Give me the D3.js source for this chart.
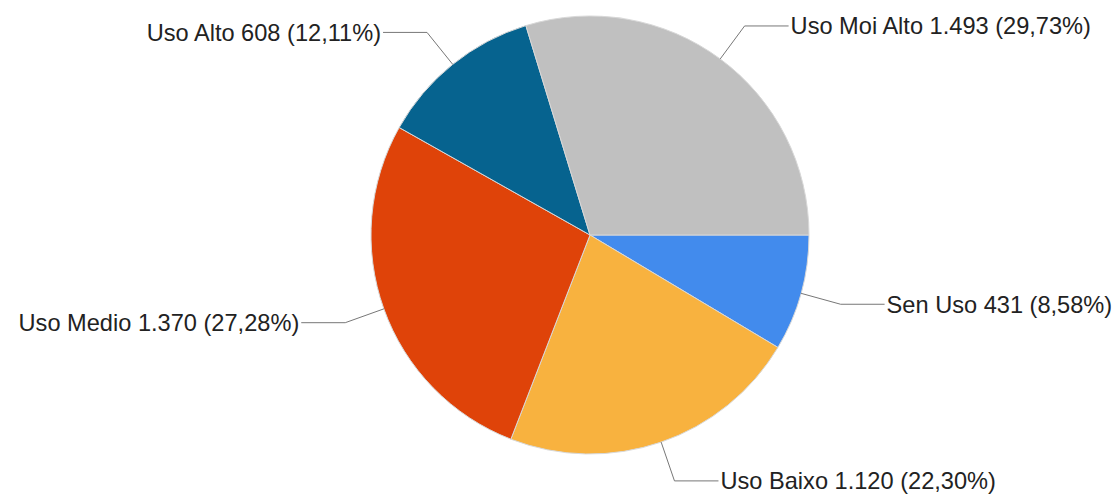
<!DOCTYPE html>
<html>
<head>
<meta charset="utf-8">
<script src="https://cdn.jsdelivr.net/npm/d3@7"></script>
<style>
  html, body { margin: 0; padding: 0; background: #fff; }
  svg { display: block; font-family: "Liberation Sans", Arial, sans-serif; }
</style>
</head>
<body>
<div id="chart"></div>
<script>
// data, clockwise from 3 o'clock
var categories = ["Sen Uso", "Uso Baixo", "Uso Medio", "Uso Alto", "Uso Moi Alto"];
var values = [431, 1120, 1370, 608, 1493];
var valueLabels = ["431", "1.120", "1.370", "608", "1.493"];
var percentLabels = ["8,58%", "22,30%", "27,28%", "12,11%", "29,73%"];
var colors = ["#428bed", "#f8b23f", "#df4309", "#06638f", "#c0c0c0"];

var width = 1119, height = 495;
var cx = 590, cy = 235, r = 219;

var svg = d3.select("#chart").append("svg")
    .attr("width", width)
    .attr("height", height);

var g = svg.append("g").attr("transform", "translate(" + cx + "," + cy + ")");

var data = categories.map(function(c, i) { return {name: c, value: values[i], i: i}; });

var pie = d3.pie()
    .sort(null)
    .value(function(d) { return d.value; })
    .startAngle(Math.PI / 2)
    .endAngle(Math.PI / 2 + 2 * Math.PI);

var arc = d3.arc().innerRadius(0).outerRadius(r);
var arcs = pie(data);

g.selectAll("path.slice")
  .data(arcs)
  .enter().append("path")
    .attr("class", "slice")
    .attr("d", arc)
    .attr("fill", function(d) { return colors[d.data.i]; })
    .attr("stroke", "#d8d8d8")
    .attr("stroke-width", 1);

// labels with elbow lines
var elbowR = 260, hLen = 44;
arcs.forEach(function(d) {
  var a = (d.startAngle + d.endAngle) / 2;
  var sx = r * Math.sin(a), sy = -r * Math.cos(a);
  var ex = elbowR * Math.sin(a), ey = -elbowR * Math.cos(a);
  var right = Math.sin(a) > 0;
  var tx = ex + (right ? hLen : -hLen);
  g.append("polyline")
    .attr("points", [[sx, sy], [ex, ey], [tx, ey]].map(function(p) { return p.join(","); }).join(" "))
    .attr("fill", "none")
    .attr("stroke", "#777")
    .attr("stroke-width", 1);
  g.append("text")
    .attr("x", tx + (right ? 2 : -2))
    .attr("y", ey)
    .attr("dy", "0.35em")
    .attr("text-anchor", right ? "start" : "end")
    .attr("font-size", 23.6)
    .attr("fill", "#222")
    .text(d.data.name + " " + valueLabels[d.data.i] + " (" + percentLabels[d.data.i] + ")");
});
</script>
</body>
</html>
